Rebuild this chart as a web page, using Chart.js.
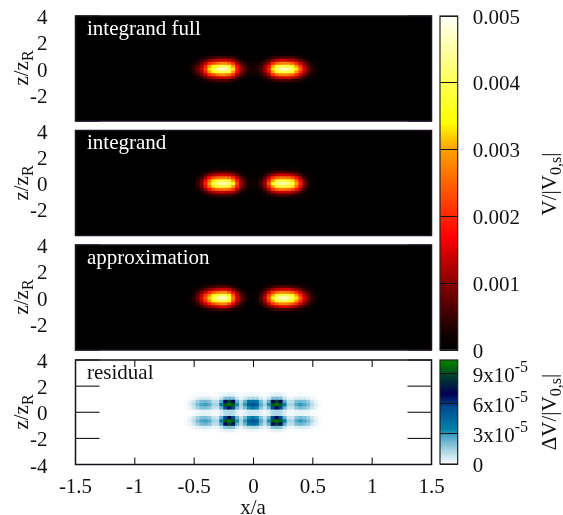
<!DOCTYPE html>
<html>
<head>
<meta charset="utf-8">
<script src="https://cdn.jsdelivr.net/npm/chart.js@4"></script>
<style>
html,body{margin:0;padding:0;background:#fff;}
#fig{position:relative;width:563px;height:515px;overflow:hidden;font-family:'Liberation Serif',serif;color:#111;}
canvas{position:absolute;}
.lab{position:absolute;font-size:21px;white-space:nowrap;line-height:1;}
.rot{transform:translate(-50%,-50%) rotate(-90deg);}
.lab sub{font-size:16px;line-height:0;}
</style>
</head>
<body>
<div id="fig">
  <canvas id="p0" width="445" height="125" style="left:0;top:0"></canvas>
  <canvas id="p1" width="445" height="125" style="left:0;top:114px"></canvas>
  <canvas id="p2" width="445" height="125" style="left:0;top:229px"></canvas>
  <canvas id="p3" width="445" height="171" style="left:0;top:344px"></canvas>
  <canvas id="cb0" width="133" height="365" style="left:430px;top:0"></canvas>
  <canvas id="cb1" width="133" height="145" style="left:430px;top:344px"></canvas>
  <div class="lab rot" style="left:21px;top:68px">z/z<sub>R</sub></div>
  <div class="lab rot" style="left:21px;top:183px">z/z<sub>R</sub></div>
  <div class="lab rot" style="left:21px;top:297px">z/z<sub>R</sub></div>
  <div class="lab rot" style="left:21px;top:412px">z/z<sub>R</sub></div>
  <div class="lab" style="left:253px;top:497px;transform:translateX(-50%)">x/a</div>
  <div class="lab rot" style="left:549px;top:184px">V/|V<sub>0,s</sub>|</div>
  <div class="lab rot" style="left:549px;top:412px">&Delta;V/|V<sub>0,s</sub>|</div>
</div>
<script>
// cell centres shared by all panels
const xCells=[-0.6,-0.5667,-0.5333,-0.5,-0.4667,-0.4333,-0.4,-0.3667,-0.3333,-0.3,-0.2667,-0.2333,-0.2,-0.1667,-0.1333,-0.1,-0.0667,-0.0333,0,0.0333,0.0667,0.1,0.1333,0.1667,0.2,0.2333,0.2667,0.3,0.3333,0.3667,0.4,0.4333,0.4667,0.5,0.5333,0.5667,0.6];
const zRows=[1.1,0.88,0.66,0.44,0.22,0,-0.22,-0.44,-0.66,-0.88,-1.1];
const zRowsResidual=[1.375,1.125,0.875,0.625,0.375,0.125,-0.125,-0.375,-0.625,-0.875,-1.125,-1.375];

// integrand full, units of 1e-4
const full0=[0,.5,1.5,4,8,13,22,33,39,44,46,46,42,33,19,11,6,3.5,3,3.5,6,11,19,33,41,45,46,45,41,33,24,15,8,4,2,1,.5];
const full1=[0,.4,1.3,3.5,7,11,19,29,34,38,40,40,37,29,17,10,5,3,2.6,3,5,10,17,29,36,39,40,39,36,29,21,13,7,3.5,1.7,.9,.4];
const full2=[0,.3,.9,2.4,4.8,7.8,13,20,23,26,28,28,25,20,11,6.6,3.6,2,1.8,2,3.6,6.6,11,20,25,27,28,27,25,20,14,9,4.8,2.4,1.2,.6,.3];
const full3=[0,.2,.5,1.2,2.5,4,6.8,10,12,13.6,14,14,13,10,5.9,3.4,1.9,1.1,.9,1.1,1.9,3.4,5.9,10,12.7,14,14,14,12.7,10,7.4,4.7,2.5,1.2,.6,.3,.2];
const full4=[0,.1,.2,.5,1,1.7,2.8,4.2,5,5.6,5.8,5.8,5.3,4.2,2.4,1.4,.8,.4,.4,.4,.8,1.4,2.4,4.2,5.2,5.7,5.8,5.7,5.2,4.2,3,1.9,1,.5,.3,.1,.1];
const full5=[0,0,.1,.2,.3,.5,.9,1.3,1.6,1.8,1.8,1.8,1.7,1.3,.8,.4,.2,.1,.1,.1,.2,.4,.8,1.3,1.6,1.8,1.8,1.8,1.6,1.3,1,.6,.3,.2,.1,0,0];
const fullGrid=[full5,full4,full3,full2,full1,full0,full1,full2,full3,full4,full5];

// integrand
const integ0=[0,0,.5,1.5,4,9,19,30,38,43,45,45,42,35,22,11,5,2.5,2,2.5,5,11,22,35,42,45,45,43,38,30,19,9,4,1.5,.5,0,0];
const integ1=[0,0,.4,1.3,3.5,8,17,26,33,37,39,39,37,30,19,10,4.4,2.2,1.7,2.2,4.4,10,19,30,37,39,39,37,33,26,17,8,3.5,1.3,.4,0,0];
const integ2=[0,0,.3,.9,2.4,5.4,11,18,23,26,27,27,25,21,13,6.6,3,1.5,1.2,1.5,3,6.6,13,21,25,27,27,26,23,18,11,5.4,2.4,.9,.3,0,0];
const integ3=[0,0,.2,.5,1.2,2.8,5.9,9.3,11.8,13.3,14,14,13,10.9,6.8,3.4,1.6,.8,.6,.8,1.6,3.4,6.8,10.9,13,14,14,13.3,11.8,9.3,5.9,2.8,1.2,.5,.2,0,0];
const integ4=[0,0,.1,.2,.5,1.1,2.4,3.8,4.8,5.5,5.7,5.7,5.3,4.4,2.8,1.4,.6,.3,.3,.3,.6,1.4,2.8,4.4,5.3,5.7,5.7,5.5,4.8,3.8,2.4,1.1,.5,.2,.1,0,0];
const integ5=[0,0,0,.1,.2,.4,.8,1.2,1.5,1.7,1.8,1.8,1.7,1.4,.9,.4,.2,.1,.1,.1,.2,.4,.9,1.4,1.7,1.8,1.8,1.7,1.5,1.2,.8,.4,.2,.1,0,0,0];
const integGrid=[integ5,integ4,integ3,integ2,integ1,integ0,integ1,integ2,integ3,integ4,integ5];

// approximation
const appr0=[0,.5,1.5,3.5,8,15,24,32,39,44,47,46,39,27,15,8,3.5,1.5,1,2,6,13,24,35,42,46,47,45,40,33,24,15,9,4.5,2,.5,0];
const appr1=[0,.4,1.3,3,7,13,21,28,34,38,41,40,34,23,13,7,3,1.3,.9,1.7,5,11,21,30,37,40,41,39,35,29,21,13,8,4,1.7,.4,0];
const appr2=[0,.3,.9,2.1,4.8,9,14,19,23,26,28,28,23,16,9,4.8,2.1,.9,.6,1.2,3.6,7.8,14,21,25,28,28,27,24,20,14,9,5.4,2.7,1.2,.3,0];
const appr3=[0,.2,.5,1.1,2.5,4.7,7.4,10,12,13.6,14.6,14.3,12,8.4,4.7,2.5,1.1,.5,.3,.6,1.9,4,7.4,10.9,13,14.3,14.6,14,12.4,10.2,7.4,4.7,2.8,1.4,.6,.2,0];
const appr4=[0,.1,.2,.4,1,1.9,3,4.1,5,5.6,6,5.8,5,3.4,1.9,1,.4,.2,.1,.3,.8,1.7,3,4.4,5.3,5.8,6,5.7,5.1,4.2,3,1.9,1.1,.6,.3,.1,0];
const appr5=[0,0,.1,.1,.3,.6,1,1.3,1.6,1.8,1.9,1.8,1.6,1.1,.6,.3,.1,.1,0,.1,.2,.5,1,1.4,1.7,1.8,1.9,1.8,1.6,1.3,1,.6,.4,.2,.1,0,0];
const apprGrid=[appr5,appr4,appr3,appr2,appr1,appr0,appr1,appr2,appr3,appr4,appr5];

// residual, units of 1e-6
const res0=[0,1,4,10,20,27,29,25,14,13,36,92,100,92,32,14,30,50,55,50,26,13,32,92,100,92,36,14,13,26,30,27,20,10,4,1,0];
const res1=[0,1,3,7,15,20,22,19,10,10,27,68,88,68,24,11,24,38,42,38,21,10,24,68,88,68,27,10,10,20,22,20,15,7,3,1,0];
const res2=[0,.7,2.8,7,14,19,20,17,9,8,24,56,72,56,22,10,21,33,37,33,19,9,22,56,72,56,24,9,8,18,21,19,14,7,2.8,.7,0];
const res3=[0,.2,.8,2,4,5.4,5.8,5,2.8,3,8,18,20,18,7,3,7,11,12,11,6,3,7,18,20,18,8,3,3,5.2,6,5.4,4,2,.8,.2,0];
const res4=[0,0,.5,1.2,2.4,3.2,3.5,3,1.7,1.6,5,11,12,11,4.4,2,4.2,7,7.4,6.6,3.8,2,4.4,11,12,11,5,1.7,1.6,3.1,3.6,3.2,2.4,1.2,.5,0,0];
const res5=[0,0,.2,.4,.8,1,1.2,1,.6,.6,2,3.6,4,3.6,1.8,.8,1.4,2.3,2.5,2.2,1.3,.7,1.8,3.6,4,3.6,2,.6,.6,1,1.2,1,.8,.4,.2,0,0];
const resGrid=[res5,res3,res1,res0,res2,res4,res4,res2,res0,res1,res3,res5];

const panelLabels=['integrand full','integrand','approximation','residual'];
const zTicksLast=-4;
const cbTicksMain=[0,0.001,0.002,0.003,0.004,0.005];
const cbTicksRes=[0,3e-5,6e-5,9e-5];
const cbTextRes=['0','3x10','6x10','9x10'];
const cbMaxRes=1.04e-4;

// colour palettes: level, colour
const hotLevels=[0,0.0002,0.001,0.0017,0.003,0.0034,0.004,0.005];
const hotColors=[[0,0,0],[12,0,0],[136,0,0],[255,0,0],[255,160,0],[255,255,0],[255,255,85],[255,255,248]];
const resLevels=[0,0.2e-5,0.7e-5,2.7e-5,3.5e-5,5.7e-5,7e-5,8.8e-5,1e-4,1.04e-4];
const resColors=[[255,255,255],[240,248,252],[207,232,240],[80,168,200],[0,127,168],[0,74,144],[0,0,80],[0,64,48],[0,120,0],[0,128,0]];

const SERIF="'Liberation Serif',serif";
const FRAME='#1a1020';

function colorAt(levels,colors,v){
  if(v<=levels[0])return `rgb(${colors[0].join(',')})`;
  for(let i=1;i<levels.length;i++){
    if(v<=levels[i]){
      const t=(v-levels[i-1])/(levels[i]-levels[i-1]);
      const c=colors[i].map((k,n)=>Math.round(colors[i-1][n]+(k-colors[i-1][n])*t));
      return `rgb(${c.join(',')})`;
    }
  }
  return `rgb(${colors[colors.length-1].join(',')})`;
}

// fills the plot area, draws inward ticks, frame and panel name
const panelPlugin={
  id:'panelDeco',
  beforeDatasetsDraw(chart,args,o){
    const a=chart.chartArea,c=chart.ctx;
    c.save();c.fillStyle=o.bg;c.fillRect(a.left,a.top,a.width,a.height);c.restore();
  },
  afterDatasetsDraw(chart,args,o){
    const a=chart.chartArea,c=chart.ctx,sx=chart.scales.x,sy=chart.scales.y;
    c.save();
    c.strokeStyle='#000';c.lineWidth=1;c.beginPath();
    sx.ticks.forEach(t=>{
      const px=sx.getPixelForValue(t.value);
      c.moveTo(px,a.top);c.lineTo(px,a.top+7);
      c.moveTo(px,a.bottom);c.lineTo(px,a.bottom-7);
    });
    sy.ticks.forEach(t=>{
      const py=sy.getPixelForValue(t.value);
      c.moveTo(a.left,py);c.lineTo(a.left+24,py);
      c.moveTo(a.right,py);c.lineTo(a.right-24,py);
    });
    c.stroke();
    c.strokeStyle=FRAME;c.lineWidth=1.5;
    c.strokeRect(a.left,a.top,a.width,a.height);
    c.fillStyle=o.textColor;c.font='21px '+SERIF;c.textBaseline='middle';
    c.fillText(o.label,87,a.top+13);
    c.restore();
  }
};

function makePanel(id,grid,zs,unit,halfZ,levels,colors,bg,idx,topPad,botPad){
  const isLast=idx===3;
  const datasets=grid.map((row,j)=>({
    data:row.map((v,i)=>({x:xCells[i],y:[zs[j]-halfZ,zs[j]+halfZ]})),
    backgroundColor:row.map(v=>colorAt(levels,colors,v*unit)),
    borderWidth:0,
    barThickness:4.5,
    grouped:false,
  }));
  return new Chart(document.getElementById(id),{
    type:'bar',
    data:{datasets},
    plugins:[panelPlugin],
    options:{
      responsive:false,
      animation:false,
      events:[],
      layout:{padding:{top:topPad,bottom:botPad,right:13.5,left:0}},
      plugins:{
        legend:{display:false},tooltip:{enabled:false},
        panelDeco:{bg,label:panelLabels[idx],textColor:isLast?'#111':'#fff'},
      },
      scales:{
        x:{
          type:'linear',offset:false,min:-1.5,max:1.5,display:isLast,
          grid:{display:false,offset:false},border:{display:false},
          afterFit:s=>{s.height=isLast?50.5:0;s.paddingLeft=0;s.paddingRight=0;},
          ticks:{stepSize:0.5,color:'#111',font:{family:SERIF,size:21},padding:2.5,maxRotation:0,autoSkip:false,callback:v=>String(v)},
        },
        y:{
          min:-4,max:4,
          grid:{display:false,drawTicks:false},border:{display:false},
          afterFit:s=>{s.width=75.5;s.paddingTop=0;s.paddingBottom=0;},
          ticks:{stepSize:2,autoSkip:false,padding:28,labelOffset:2.5,color:'#111',font:{family:SERIF,size:21},callback:v=>(!isLast&&v===zTicksLast)?'':String(v)},
        },
      },
    },
  });
}

makePanel('p0',fullGrid,zRows,1e-4,0.12,hotLevels,hotColors,'#000',0,16,4);
makePanel('p1',integGrid,zRows,1e-4,0.12,hotLevels,hotColors,'#000',1,16.5,3.5);
makePanel('p2',apprGrid,zRows,1e-4,0.12,hotLevels,hotColors,'#000',2,16,4);
makePanel('p3',resGrid,zRowsResidual,1e-6,0.135,resLevels,resColors,'#fff',3,16,0);

// colour bars
const cbFrame={
  id:'cbFrame',
  afterDraw(chart,args,o){
    const a=chart.chartArea,c=chart.ctx,sy=chart.scales.y;
    c.save();
    c.strokeStyle='#222';c.lineWidth=1.2;
    c.strokeRect(a.left,a.top,a.width,a.height);
    if(o.texts){
      c.fillStyle='#111';c.textBaseline='middle';
      o.values.forEach((v,i)=>{
        const py=sy.getPixelForValue(v)+2;
        c.font='21px '+SERIF;
        c.fillText(o.texts[i],a.right+15,py);
        if(v!==0){
          const w=c.measureText(o.texts[i]).width;
          c.font='16px '+SERIF;
          c.fillText('-5',a.right+15+w,py-8);
        }
      });
    }
    c.restore();
  }
};

function makeBar(id,maxV,levels,colors,ticks,texts,topPad,botPad){
  return new Chart(document.getElementById(id),{
    type:'bar',
    data:{labels:['c'],datasets:[{
      data:[[0,maxV]],
      borderWidth:0,barPercentage:1,categoryPercentage:1,
      backgroundColor:ctx=>{
        const a=ctx.chart.chartArea;
        if(!a)return '#000';
        const g=ctx.chart.ctx.createLinearGradient(0,a.bottom,0,a.top);
        levels.forEach((l,i)=>g.addColorStop(Math.min(l/maxV,1),`rgb(${colors[i].join(',')})`));
        return g;
      },
    }]},
    plugins:[cbFrame],
    options:{
      responsive:false,animation:false,events:[],
      layout:{padding:{top:topPad,bottom:botPad,left:10,right:0}},
      plugins:{legend:{display:false},tooltip:{enabled:false},cbFrame:{texts,values:ticks}},
      scales:{
        x:{display:false},
        y:{
          position:'right',min:0,max:maxV,
          afterBuildTicks:s=>{s.ticks=ticks.map(v=>({value:v}));},
          afterFit:s=>{s.width=105.3;s.paddingTop=0;s.paddingBottom=0;},
          grid:{color:'#111',drawTicks:false,z:1,lineWidth:1},border:{display:false},
          ticks:{display:!texts,padding:15,labelOffset:2,autoSkip:false,color:'#111',font:{family:SERIF,size:21},callback:v=>String(v)},
        },
      },
    },
  });
}

makeBar('cb0',0.005,hotLevels,hotColors,cbTicksMain,null,16,15);
makeBar('cb1',cbMaxRes,resLevels,resColors,cbTicksRes,cbTextRes,16,25);
</script>
</body>
</html>
